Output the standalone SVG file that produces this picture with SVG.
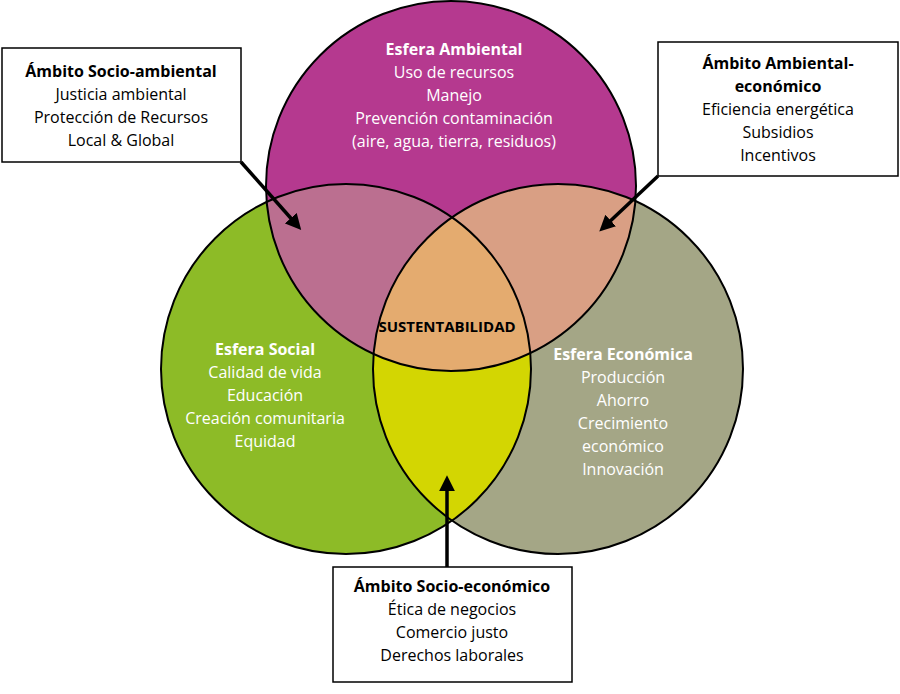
<svg xmlns="http://www.w3.org/2000/svg" width="900" height="694" viewBox="0 0 900 694">
<style>
text{font-family:"Open Sans","Noto Sans","Liberation Sans",sans-serif;font-size:16px;text-anchor:middle}
.w{fill:#fff}.b{font-weight:bold}.k{fill:#000}
.c{stroke:#000;stroke-width:2}
.box{fill:#fff;stroke:#000;stroke-width:1.5}
.ar{stroke:#000;stroke-width:3.5;fill:none;marker-end:url(#ah)}
</style>
<defs>
<marker id="ah" viewBox="0 0 10 10" refX="5" refY="5" markerWidth="4.5" markerHeight="5" orient="auto"><path d="M0,0L10,5L0,10Z" fill="#000"/></marker>
<clipPath id="cT"><circle cx="451" cy="186" r="185"/></clipPath>
<clipPath id="cL"><circle cx="346" cy="369" r="185"/></clipPath>
<clipPath id="cR"><circle cx="558" cy="369" r="185"/></clipPath>
</defs>
<g id="venn">
<circle cx="346" cy="369" r="185" fill="#8dbb27"/>
<circle cx="558" cy="369" r="185" fill="#a4a686"/>
<circle cx="451" cy="186" r="185" fill="#b5398f"/>
<g clip-path="url(#cT)"><circle cx="346" cy="369" r="185" fill="#bb6f90"/><circle cx="558" cy="369" r="185" fill="#d99f84"/></g>
<g clip-path="url(#cL)"><circle cx="558" cy="369" r="185" fill="#d3d602"/></g>
<g clip-path="url(#cL)"><g clip-path="url(#cR)"><circle cx="451" cy="186" r="185" fill="#e4ab6f"/></g></g>
<circle class="c" cx="346" cy="369" r="185" fill="none"/>
<circle class="c" cx="558" cy="369" r="185" fill="none"/>
<circle class="c" cx="451" cy="186" r="185" fill="none"/>
</g>
<g id="ambiental" class="w">
<text x="454" y="55" class="b">Esfera Ambiental</text>
<text x="454" y="78">Uso de recursos</text>
<text x="454" y="101">Manejo</text>
<text x="454" y="124">Prevención contaminación</text>
<text x="454" y="147">(aire, agua, tierra, residuos)</text>
</g>
<g id="social" class="w">
<text x="265" y="355" class="b">Esfera Social</text>
<text x="265" y="378">Calidad de vida</text>
<text x="265" y="401">Educación</text>
<text x="265" y="424">Creación comunitaria</text>
<text x="265" y="447">Equidad</text>
</g>
<g id="economica" class="w">
<text x="623" y="360" class="b">Esfera Económica</text>
<text x="623" y="383">Producción</text>
<text x="623" y="406">Ahorro</text>
<text x="623" y="429">Crecimiento</text>
<text x="623" y="452">económico</text>
<text x="623" y="475">Innovación</text>
</g>
<g id="sustentabilidad"><text x="447" y="332" class="b k" style="font-size:15px">SUSTENTABILIDAD</text></g>
<g id="connectors">
<path class="ar" d="M241,162L296,224"/>
<path class="ar" d="M658,176L605,226"/>
<path class="ar" d="M447,567L447,483"/>
</g>
<g id="socioambiental">
<rect class="box" x="2" y="48" width="239" height="114"/>
<text x="121" y="77" class="b">Ámbito Socio-ambiental</text>
<text x="121" y="100">Justicia ambiental</text>
<text x="121" y="123">Protección de Recursos</text>
<text x="121" y="146">Local &amp; Global</text>
</g>
<g id="ambientaleconomico">
<rect class="box" x="658" y="42" width="240" height="134"/>
<text x="778" y="69" class="b">Ámbito Ambiental-</text>
<text x="778" y="92" class="b">económico</text>
<text x="778" y="115">Eficiencia energética</text>
<text x="778" y="138">Subsidios</text>
<text x="778" y="161">Incentivos</text>
</g>
<g id="socioeconomico">
<rect class="box" x="333" y="567" width="239" height="115"/>
<text x="452" y="592" class="b">Ámbito Socio-económico</text>
<text x="452" y="615">Ética de negocios</text>
<text x="452" y="638">Comercio justo</text>
<text x="452" y="661">Derechos laborales</text>
</g>
</svg>
